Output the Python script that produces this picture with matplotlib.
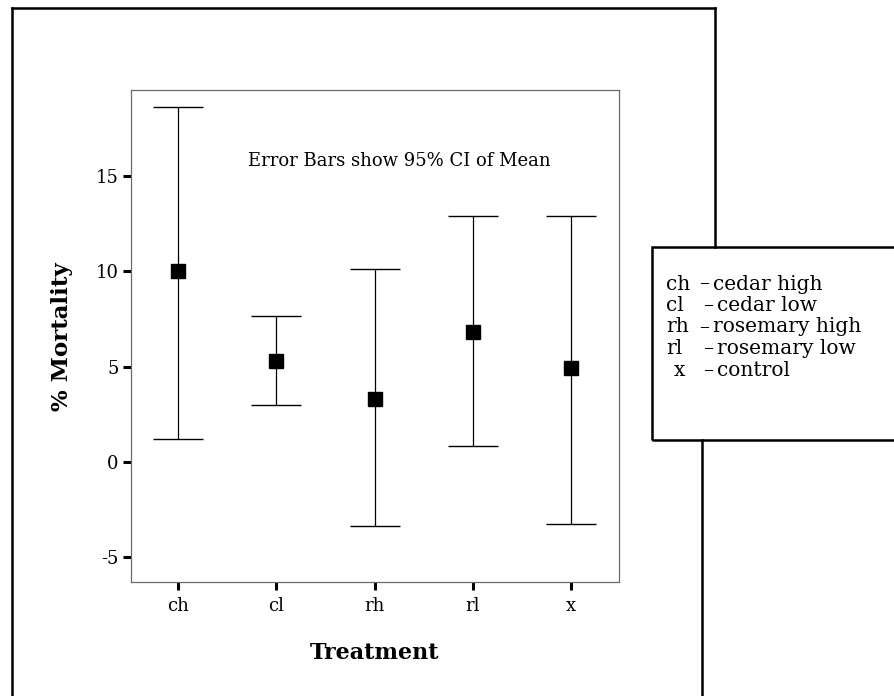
import matplotlib
matplotlib.use("Agg")
import matplotlib.pyplot as plt
from matplotlib.lines import Line2D
from matplotlib.patches import Rectangle

# ---- data ----
categories = ["ch", "cl", "rh", "rl", "x"]
means = [10.0, 5.3, 3.3, 6.8, 4.9]
ci_low = [1.2, 3.0, -3.35, 0.85, -3.25]
ci_high = [18.6, 7.65, 10.1, 12.9, 12.9]
yticks = [-5, 0, 5, 10, 15]
legend_abbr = ["ch", "cl", "rh", "rl", "x"]
legend_desc = ["cedar high", "cedar low", "rosemary high", "rosemary low", "control"]
note = "Error Bars show 95% CI of Mean"

W, H = 894, 696
FONT = "DejaVu Serif"
plt.rcParams["font.family"] = [FONT]

fig = plt.figure(figsize=(W / 100, H / 100), dpi=100)

def fx(px):
    return px / W

def fy(py):
    return 1 - py / H

# axes placement (pixel box 131..619 x 90..582)
ax = fig.add_axes([fx(131), fy(582), fx(619) - fx(131), fy(90) - fy(582)])

xpos = list(range(len(categories)))
lower_err = [m - lo for m, lo in zip(means, ci_low)]
upper_err = [hi - m for m, hi in zip(means, ci_high)]
ax.errorbar(xpos, means, yerr=[lower_err, upper_err], fmt="s", color="black",
            ecolor="black", elinewidth=0.9, capsize=18, capthick=1.0,
            markersize=10, zorder=3)

ax.set_xlim(-0.48, 4.49)
ax.set_ylim(-6.3, 19.5)
ax.set_xticks(xpos)
ax.set_xticklabels(categories, fontsize=13)
ax.set_yticks(yticks)
ax.set_yticklabels([str(t) for t in yticks], fontsize=13)
ax.tick_params(axis="both", direction="out", length=6, width=2.2, color="black", pad=3)
ax.tick_params(axis="x", pad=5)

for s in ax.spines.values():
    s.set_color("#6a6a6a")
    s.set_linewidth(0.9)

ax.text(0.71, 15.8, note, fontsize=13, va="center", ha="left")

fig.text(fx(62), fy(337), "% Mortality", rotation=90, fontsize=16.5,
         fontweight="bold", ha="center", va="center")
fig.text(fx(375), fy(653), "Treatment", fontsize=16, fontweight="bold",
         ha="center", va="center")

# outer frame lines
lw = 1.8
fig.add_artist(Line2D([fx(12), fx(12)], [fy(8), fy(700)], color="black", lw=lw))
fig.add_artist(Line2D([fx(12), fx(715)], [fy(8), fy(8)], color="black", lw=lw))
fig.add_artist(Line2D([fx(715), fx(715)], [fy(8), fy(247)], color="black", lw=lw))
fig.add_artist(Line2D([fx(702), fx(702)], [fy(440), fy(700)], color="black", lw=lw))

# legend box
fig.add_artist(Rectangle((fx(652), fy(440)), fx(260), fy(247) - fy(440),
                         transform=fig.transFigure, fill=False,
                         edgecolor="black", lw=lw))
abbr_x = [666, 666, 666, 666, 674]
dash_x = [699, 703, 699, 703, 703]
for i, (a, d) in enumerate(zip(legend_abbr, legend_desc)):
    y = fy(284 + 21.5 * i)
    fig.text(fx(abbr_x[i]), y, a, fontsize=14.5, va="center", ha="left")
    fig.text(fx(dash_x[i]), y, "\u2013", fontsize=14.5, va="center", ha="left")
    fig.text(fx(dash_x[i] + 14), y, d, fontsize=14.5, va="center", ha="left")

fig.savefig("out.png", dpi=100, facecolor="white")
